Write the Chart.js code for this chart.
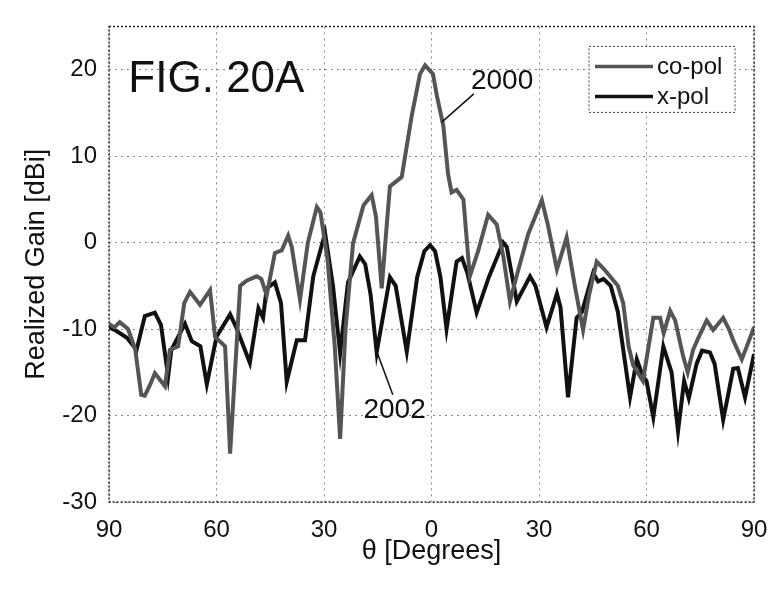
<!DOCTYPE html>
<html>
<head>
<meta charset="utf-8">
<script src="https://cdn.jsdelivr.net/npm/chart.js@4"></script>
<style>
  body { margin: 0; background: #fff; }
  #wrap { width: 782px; height: 595px; }
</style>
</head>
<body>
<div id="wrap"><canvas id="myChart" width="782" height="595"></canvas></div>
<script>
// co-pol (2000), angle in degrees and realized gain in dBi
const coAngle = [-90, -88.5, -87, -84.7, -82.7, -81, -80, -78.5, -77.2, -75.5, -74.4, -73, -70.7, -69, -67.4, -64.6, -61.8, -60.4, -57.6, -56.2,
  -53.4, -51.6, -48.8, -47.5, -46, -43.7, -41.8, -40, -39, -36.7, -34.5, -32, -31, -29, -27, -25.5, -24, -21.9, -19, -16.7,
  -15.5, -13.9, -12.5, -11.6, -9.5, -8.3, -7.4, -5.5, -3.2, -1.8, 0.4, 1.5, 3.3, 4.6, 5.6, 7, 8.9, 10.7, 13, 15.8,
  18.2, 20, 21.9, 24, 27, 30.8, 32.5, 35, 37.7, 40, 42.3, 44, 46.1, 48, 49.8, 52, 53.5, 55, 56.3, 59,
  61.9, 63.8, 64.8, 66.6, 68, 70.2, 71.5, 73, 74.5, 76.8, 78.6, 81.4, 83, 84.2, 86.6, 88, 90];
const coGain = [-9.4, -9.8, -9.2, -10, -12.3, -17.6, -17.7, -16.4, -15.1, -16, -16.6, -12.4, -12, -7, -5.7, -7.2, -5.5, -10.9, -12, -24.4,
  -5, -4.4, -3.9, -4.2, -6.1, -1.2, -0.9, 0.8, -0.5, -6.6, 0, 4.1, 3.5, -2, -12, -22.7, -10, -0.1, 4.3, 5.5,
  3, -5.3, 2, 6.5, 7.2, 7.6, 9.9, 14.7, 19.5, 20.5, 19.5, 17, 13.5, 8, 5.8, 6.1, 5, -3.9, -1, 3.2,
  2.1, -1.5, -6.8, -3.5, 1, 4.9, 2, -3.1, 0.6, -5, -10.1, -6, -2.2, -3, -3.9, -5, -7, -12, -14.2, -16,
  -8.7, -8.7, -10.5, -7.9, -9, -13.1, -15, -12.4, -11, -9, -10.1, -8.7, -10, -11.3, -13.5, -12, -9.8];

// x-pol (2002)
const xAngle = [-90, -88, -85, -82.3, -80, -77.2, -75.5, -73.5, -72.6, -68.8, -66.9, -64.5, -62.7, -60, -56.2, -54.5, -50.7, -48.3, -47, -46,
  -43.7, -42, -40.4, -37.6, -35.3, -33, -29.7, -27.5, -25.5, -23.3, -20, -18.5, -17, -15.3, -11.6, -10, -6.9, -4, -2, -0.4,
  1, 2.5, 4.2, 7, 8.5, 10, 12.6, 16, 20, 21, 23.8, 27.5, 29, 32.1, 35, 36, 38.1, 40.5, 42, 45.1,
  46.5, 48, 50, 52, 55.4, 57.3, 59, 60, 61.9, 64.7, 67, 68.8, 70.5, 71.8, 74, 75.5, 77.7, 79, 81.4, 84.2,
  85.5, 87.5, 90];
const xGain = [-9.8, -10.2, -11, -12.4, -8.5, -8.1, -9.5, -15.5, -12.4, -9.4, -11.4, -12, -16.4, -10.9, -8.3, -9.8, -13.9, -7.6, -8.7, -5.3,
  -4.6, -7, -16.1, -11.3, -11.3, -3.9, 1.1, -5, -12.8, -4.6, -1.6, -2.5, -6, -12.7, -4, -5, -12.6, -4, -1, -0.3,
  -1, -4, -10, -2.2, -1.8, -3.5, -8.1, -4, 0, -0.5, -6.8, -3.9, -5, -9.8, -5.9, -7.5, -17.9, -8.7, -8, -3.5,
  -4.5, -4.2, -5, -8, -17.9, -13.5, -15.5, -16, -20.2, -12, -15, -21.8, -16, -18, -14, -12.5, -12.7, -14, -20.5, -14.6,
  -14.5, -17.9, -12.9];

const seriesNames = ['co-pol', 'x-pol'];
const seriesColors = ['#555555', '#111111'];
const xTicks = [-90, -60, -30, 0, 30, 60, 90];
const yTicks = [-30, -20, -10, 0, 10, 20];

const FONT = 'Liberation Sans, Arial, Helvetica, sans-serif';

function toPoints(angles, gains) {
  return angles.map((a, i) => ({ x: a, y: gains[i] }));
}

// frame, figure label, reference numerals and legend
const extras = {
  id: 'extras',
  afterDatasetsDraw(chart) {
    const ctx = chart.ctx;
    const area = chart.chartArea;
    const sx = chart.scales.x;
    const sy = chart.scales.y;
    ctx.save();

    // dotted frame
    ctx.strokeStyle = '#222';
    ctx.lineWidth = 1.5;
    ctx.setLineDash([2, 2]);
    ctx.strokeRect(area.left, area.top, area.right - area.left, area.bottom - area.top);

    // FIG. 20A
    ctx.setLineDash([]);
    ctx.fillStyle = '#111';
    ctx.font = '44px ' + FONT;
    ctx.textAlign = 'left';
    ctx.textBaseline = 'alphabetic';
    ctx.fillText('FIG. 20A', sx.getPixelForValue(-84.6), sy.getPixelForValue(17.4));

    // 2000 with leader line
    ctx.font = '28px ' + FONT;
    ctx.textAlign = 'center';
    ctx.textBaseline = 'middle';
    ctx.fillText('2000', sx.getPixelForValue(19.7), sy.getPixelForValue(18.6));
    ctx.lineWidth = 1.5;
    ctx.strokeStyle = '#111';
    ctx.beginPath();
    ctx.moveTo(sx.getPixelForValue(11.8), sy.getPixelForValue(17.2));
    ctx.lineTo(sx.getPixelForValue(2.8), sy.getPixelForValue(13.9));
    ctx.stroke();

    // 2002 with leader line
    ctx.fillText('2002', sx.getPixelForValue(-10.3), sy.getPixelForValue(-19.4));
    ctx.beginPath();
    ctx.moveTo(sx.getPixelForValue(-15), sy.getPixelForValue(-12.9));
    ctx.lineTo(sx.getPixelForValue(-10.8), sy.getPixelForValue(-17.6));
    ctx.stroke();

    // legend box
    const bx = area.right - 165, by = area.top + 20, bw = 146, bh = 66;
    ctx.fillStyle = '#fff';
    ctx.fillRect(bx, by, bw, bh);
    ctx.strokeStyle = '#444';
    ctx.lineWidth = 1;
    ctx.setLineDash([2, 2]);
    ctx.strokeRect(bx, by, bw, bh);
    ctx.setLineDash([]);
    ctx.font = '24px ' + FONT;
    ctx.textAlign = 'left';
    seriesNames.forEach((name, i) => {
      const ly = by + 20 + i * 30;
      ctx.strokeStyle = seriesColors[i];
      ctx.lineWidth = 3.5;
      ctx.beginPath();
      ctx.moveTo(bx + 6, ly);
      ctx.lineTo(bx + 64, ly);
      ctx.stroke();
      ctx.fillStyle = '#111';
      ctx.fillText(name, bx + 68, ly + 1);
    });
    ctx.restore();
  }
};

const ctx = document.getElementById('myChart');
new Chart(ctx, {
  type: 'line',
  data: {
    datasets: [{
      label: seriesNames[0],
      data: toPoints(coAngle, coGain),
      borderColor: seriesColors[0],
      borderWidth: 4,
      pointRadius: 0,
      tension: 0
    }, {
      label: seriesNames[1],
      data: toPoints(xAngle, xGain),
      borderColor: seriesColors[1],
      borderWidth: 4,
      pointRadius: 0,
      tension: 0
    }]
  },
  options: {
    responsive: false,
    animation: false,
    layout: { padding: { left: 0, top: 7, right: 28, bottom: 0 } },
    plugins: {
      legend: { display: false },
      tooltip: { enabled: false }
    },
    scales: {
      x: {
        type: 'linear',
        min: -90,
        max: 90,
        afterBuildTicks: axis => { axis.ticks = xTicks.map(v => ({ value: v })); },
        afterFit: axis => { axis.height = 93; },
        ticks: {
          callback: v => Math.abs(v),
          font: { family: FONT, size: 24 },
          color: '#111',
          padding: 14,
          maxRotation: 0
        },
        grid: { color: '#888', lineWidth: 1, tickLength: 0 },
        border: { display: false, dash: [2, 4] },
        title: {
          display: true,
          text: 'θ [Degrees]',
          font: { family: FONT, size: 27 },
          color: '#111',
          padding: { top: 0, bottom: 27 }
        }
      },
      y: {
        min: -30,
        max: 25,
        afterBuildTicks: axis => { axis.ticks = yTicks.map(v => ({ value: v })); },
        afterFit: axis => { axis.width = 109; },
        ticks: {
          font: { family: FONT, size: 24 },
          color: '#111',
          padding: 12
        },
        grid: { color: '#888', lineWidth: 1, tickLength: 0 },
        border: { display: false, dash: [2, 4] },
        title: {
          display: true,
          text: 'Realized Gain [dBi]',
          font: { family: FONT, size: 27 },
          color: '#111',
          padding: { top: 20, bottom: 0 }
        }
      }
    }
  },
  plugins: [extras]
});
</script>
</body>
</html>
